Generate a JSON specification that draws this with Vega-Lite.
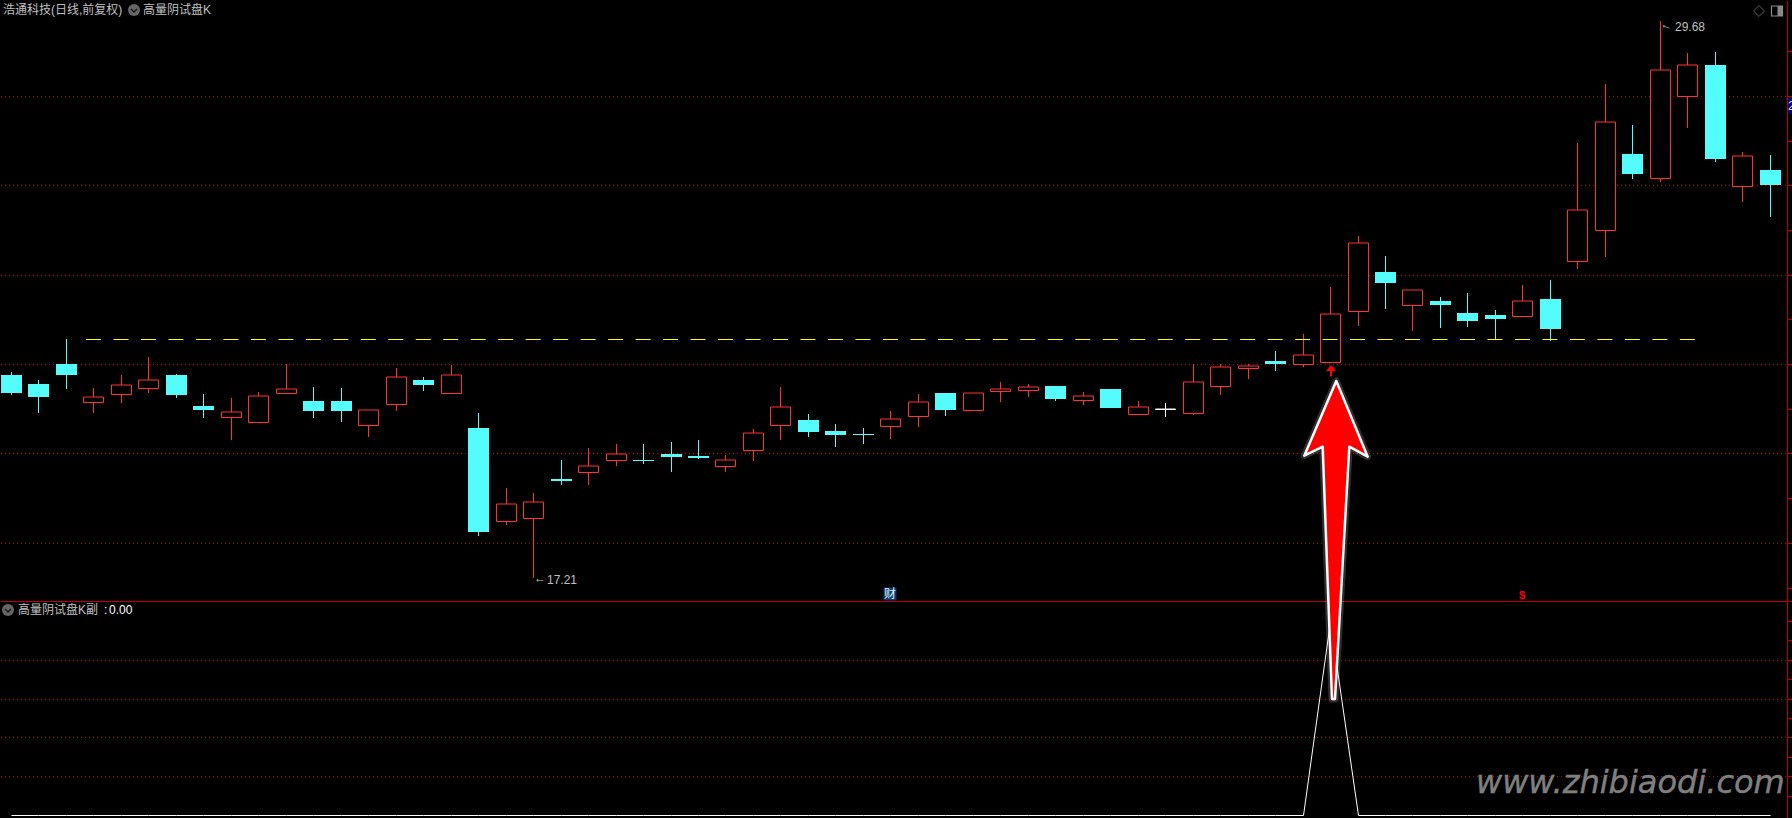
{
"$schema":"https://vega.github.io/schema/vega-lite/v6.json",
"width":1792,"height":818,"padding":0,"autosize":{"type":"fit","contains":"padding"},
"background":"#000000",
"view":{"stroke":null,"fill":"#000000"},
"config":{"text":{"font":"Liberation Sans, Noto Sans CJK SC","fontSize":12}},
"datasets":{
"candles":[
{"i":0,"o":21.765,"h":21.832,"l":21.318,"c":21.362,"d":"down","v":0},
{"i":1,"o":21.564,"h":21.653,"l":20.915,"c":21.273,"d":"down","v":0},
{"i":2,"o":22.011,"h":22.570,"l":21.452,"c":21.765,"d":"down","v":0},
{"i":3,"o":21.161,"h":21.474,"l":20.915,"c":21.273,"d":"up","v":0},
{"i":4,"o":21.340,"h":21.765,"l":21.139,"c":21.541,"d":"up","v":0},
{"i":5,"o":21.474,"h":22.168,"l":21.362,"c":21.653,"d":"up","v":0},
{"i":6,"o":21.765,"h":21.787,"l":21.250,"c":21.318,"d":"down","v":0},
{"i":7,"o":21.072,"h":21.340,"l":20.803,"c":20.982,"d":"down","v":0},
{"i":8,"o":20.825,"h":21.250,"l":20.311,"c":20.937,"d":"up","v":0},
{"i":9,"o":20.714,"h":21.385,"l":20.714,"c":21.295,"d":"up","v":0},
{"i":10,"o":21.362,"h":22.011,"l":21.362,"c":21.452,"d":"up","v":0},
{"i":11,"o":21.183,"h":21.497,"l":20.803,"c":20.960,"d":"down","v":0},
{"i":12,"o":21.183,"h":21.474,"l":20.714,"c":20.960,"d":"down","v":0},
{"i":13,"o":20.647,"h":20.982,"l":20.378,"c":20.982,"d":"up","v":0},
{"i":14,"o":21.116,"h":21.922,"l":20.960,"c":21.720,"d":"up","v":0},
{"i":15,"o":21.653,"h":21.720,"l":21.407,"c":21.541,"d":"down","v":0},
{"i":16,"o":21.362,"h":21.989,"l":21.362,"c":21.765,"d":"up","v":0},
{"i":17,"o":20.579,"h":20.915,"l":18.163,"c":18.253,"d":"down","v":0},
{"i":18,"o":18.499,"h":19.237,"l":18.409,"c":18.879,"d":"up","v":0},
{"i":19,"o":18.566,"h":19.125,"l":17.21,"c":18.924,"d":"up","v":0},
{"i":20,"o":19.438,"h":19.864,"l":19.304,"c":19.394,"d":"down","v":0},
{"i":21,"o":19.595,"h":20.132,"l":19.304,"c":19.729,"d":"up","v":0},
{"i":22,"o":19.864,"h":20.221,"l":19.729,"c":19.998,"d":"up","v":0},
{"i":23,"o":19.864,"h":20.221,"l":19.774,"c":19.841,"d":"down","v":0},
{"i":24,"o":19.998,"h":20.266,"l":19.595,"c":19.931,"d":"down","v":0},
{"i":25,"o":19.953,"h":20.311,"l":19.886,"c":19.908,"d":"down","v":0},
{"i":26,"o":19.729,"h":19.975,"l":19.595,"c":19.864,"d":"up","v":0},
{"i":27,"o":20.087,"h":20.557,"l":19.841,"c":20.468,"d":"up","v":0},
{"i":28,"o":20.647,"h":21.497,"l":20.311,"c":21.049,"d":"up","v":0},
{"i":29,"o":20.758,"h":20.893,"l":20.378,"c":20.490,"d":"down","v":0},
{"i":30,"o":20.512,"h":20.669,"l":20.154,"c":20.423,"d":"down","v":0},
{"i":31,"o":20.445,"h":20.580,"l":20.221,"c":20.423,"d":"down","v":0},
{"i":32,"o":20.624,"h":20.960,"l":20.333,"c":20.781,"d":"up","v":0},
{"i":33,"o":20.848,"h":21.340,"l":20.602,"c":21.161,"d":"up","v":0},
{"i":34,"o":21.362,"h":21.362,"l":20.848,"c":20.982,"d":"down","v":0},
{"i":35,"o":20.982,"h":21.362,"l":20.982,"c":21.362,"d":"up","v":0},
{"i":36,"o":21.407,"h":21.609,"l":21.161,"c":21.452,"d":"up","v":0},
{"i":37,"o":21.430,"h":21.564,"l":21.273,"c":21.497,"d":"up","v":0},
{"i":38,"o":21.519,"h":21.519,"l":21.183,"c":21.228,"d":"down","v":0},
{"i":39,"o":21.206,"h":21.385,"l":21.094,"c":21.295,"d":"up","v":0},
{"i":40,"o":21.452,"h":21.452,"l":21.027,"c":21.027,"d":"down","v":0},
{"i":41,"o":20.893,"h":21.183,"l":20.893,"c":21.049,"d":"up","v":0},
{"i":42,"o":21.005,"h":21.139,"l":20.825,"c":21.005,"d":"flat","v":0},
{"i":43,"o":20.915,"h":22.011,"l":20.870,"c":21.609,"d":"up","v":0},
{"i":44,"o":21.519,"h":22.011,"l":21.318,"c":21.944,"d":"up","v":0},
{"i":45,"o":21.922,"h":22.011,"l":21.676,"c":21.966,"d":"up","v":0},
{"i":46,"o":22.078,"h":22.302,"l":21.855,"c":22.011,"d":"down","v":0},
{"i":47,"o":22.011,"h":22.682,"l":21.944,"c":22.212,"d":"up","v":0},
{"i":48,"o":22.056,"h":23.734,"l":22.056,"c":23.130,"d":"up","v":1},
{"i":49,"o":23.197,"h":24.875,"l":22.861,"c":24.718,"d":"up","v":0},
{"i":50,"o":24.069,"h":24.427,"l":23.242,"c":23.823,"d":"down","v":0},
{"i":51,"o":23.331,"h":23.667,"l":22.749,"c":23.667,"d":"up","v":0},
{"i":52,"o":23.421,"h":23.510,"l":22.817,"c":23.331,"d":"down","v":0},
{"i":53,"o":23.152,"h":23.600,"l":22.839,"c":22.973,"d":"down","v":0},
{"i":54,"o":23.107,"h":23.219,"l":22.570,"c":23.018,"d":"down","v":0},
{"i":55,"o":23.085,"h":23.778,"l":23.085,"c":23.421,"d":"up","v":0},
{"i":56,"o":23.465,"h":23.890,"l":22.526,"c":22.794,"d":"down","v":0},
{"i":57,"o":24.315,"h":26.955,"l":24.136,"c":25.456,"d":"up","v":0},
{"i":58,"o":25.009,"h":28.275,"l":24.405,"c":27.425,"d":"up","v":0},
{"i":59,"o":26.709,"h":27.358,"l":26.150,"c":26.262,"d":"down","v":0},
{"i":60,"o":26.172,"h":29.68,"l":26.083,"c":28.588,"d":"up","v":0},
{"i":61,"o":28.007,"h":28.969,"l":27.291,"c":28.700,"d":"up","v":0},
{"i":62,"o":28.700,"h":28.991,"l":26.530,"c":26.597,"d":"down","v":0},
{"i":63,"o":25.993,"h":26.754,"l":25.635,"c":26.664,"d":"up","v":0},
{"i":64,"o":26.351,"h":26.687,"l":25.300,"c":26.016,"d":"down","v":0}
]},
"encoding":{"x":{"field":"i","type":"quantitative","axis":null,"scale":{"domain":[-0.3639,64.8472],"range":[0,1792],"round":true,"nice":false,"zero":false,"padding":0}}},
"layer":[
{
"encoding":{"y":{"field":"p","type":"quantitative","axis":null,"scale":{"domain":[11.8195,30.1274],"range":[818,0],"round":true,"nice":false,"zero":false}}},
"layer":[
{"data":{"values":[{"i":-0.3639,"e":64.63,"p":28},{"i":-0.3639,"e":64.63,"p":26},{"i":-0.3639,"e":64.63,"p":24},{"i":-0.3639,"e":64.63,"p":22},{"i":-0.3639,"e":64.63,"p":20},{"i":-0.3639,"e":64.63,"p":18}]},
 "mark":{"type":"rule","stroke":"#c00000","strokeWidth":1,"strokeDash":[1,3],"yOffset":0.5},
 "encoding":{"x2":{"field":"e"}}},
{"data":{"values":[{"i":-0.3639,"e":64.8472,"p":16.7}]},
 "mark":{"type":"rule","stroke":"#c00000","strokeWidth":1,"yOffset":0.5},
 "encoding":{"x2":{"field":"e"}}},
{"data":{"values":[{"i":64.63,"p":30.1274,"q":11.8195}]},
 "mark":{"type":"rule","stroke":"#c00000","strokeWidth":1,"xOffset":0.5},
 "encoding":{"y2":{"field":"q"}}},
{"data":{"values":[{"i":64.63,"e":64.81,"p":29},{"i":64.63,"e":64.81,"p":28},{"i":64.63,"e":64.81,"p":27},{"i":64.63,"e":64.81,"p":26},{"i":64.63,"e":64.81,"p":25},{"i":64.63,"e":64.81,"p":24},{"i":64.63,"e":64.81,"p":23},{"i":64.63,"e":64.81,"p":22},{"i":64.63,"e":64.81,"p":21},{"i":64.63,"e":64.81,"p":20},{"i":64.63,"e":64.81,"p":19},{"i":64.63,"e":64.81,"p":18},{"i":64.63,"e":64.81,"p":17}]},
 "mark":{"type":"rule","stroke":"#c00000","strokeWidth":1,"yOffset":0.5},
 "encoding":{"x2":{"field":"e"}}},
{"data":{"name":"candles"},
 "mark":{"type":"rule","strokeWidth":1,"xOffset":0.5},
 "encoding":{"y":{"field":"h","type":"quantitative"},"y2":{"field":"l"},
  "stroke":{"field":"d","type":"nominal","legend":null,"scale":{"domain":["up","down","flat"],"range":["#ff3232","#54fcfc","#ffffff"]}}}},
{"data":{"name":"candles"},"transform":[{"filter":"datum.d==='down'"}],
 "mark":{"type":"bar","orient":"vertical","size":21,"xOffset":0.5,"fill":"#54fcfc"},
 "encoding":{"y":{"field":"o","type":"quantitative"},"y2":{"field":"c"}}},
{"data":{"name":"candles"},"transform":[{"filter":"datum.d!=='down'"}],
 "mark":{"type":"bar","orient":"vertical","size":20,"xOffset":0.5,"yOffset":0.5,"fill":"#000000","strokeWidth":1},
 "encoding":{"y":{"field":"o","type":"quantitative"},"y2":{"field":"c"},
  "stroke":{"field":"d","type":"nominal","legend":null,"scale":{"domain":["up","down","flat"],"range":["#ff3232","#54fcfc","#ffffff"]}}}},
{"data":{"values":[{"i":2.729,"p":22.5625},{"i":61.32,"p":22.5625}]},
 "mark":{"type":"line","stroke":"#ffff00","strokeWidth":1,"strokeDash":[15,12.48],"yOffset":0.5},"encoding":{}},
{"data":{"values":[{"i":64.66,"e":64.8472,"p":27.956,"q":27.598}]},
 "mark":{"type":"rect","fill":"#000080"},"encoding":{"x2":{"field":"e"},"y2":{"field":"q"}}},
{"data":{"values":[{"i":64.67,"p":27.777,"t":"2"}]},
 "mark":{"type":"text","align":"left","baseline":"middle","fill":"#d8d8ff"},"encoding":{"text":{"field":"t"}}},
{"data":{"values":[{"i":-0.291,"p":29.926,"t":"浩通科技(日线,前复权)"},{"i":4.803,"p":29.926,"t":"高量阴试盘K"},{"i":0.255,"p":16.497,"t":"高量阴试盘K副"},{"i":60.553,"p":29.552,"t":"29.68"},{"i":19.505,"p":17.175,"t":"17.21"},{"i":19.032,"p":17.203,"t":"←"}]},
 "mark":{"type":"text","align":"left","baseline":"middle","fill":"#c0c0c0"},"encoding":{"text":{"field":"t"}}},
{"data":{"values":[{"i":60.044,"p":29.624,"t":"←"}]},
 "mark":{"type":"text","align":"left","baseline":"middle","fill":"#c0c0c0","angle":20},"encoding":{"text":{"field":"t"}}},
{"data":{"values":[{"i":3.384,"p":16.497,"t":":"},{"i":3.566,"p":16.497,"t":"0.00"}]},
 "mark":{"type":"text","align":"left","baseline":"middle","fill":"#ffffff"},"encoding":{"text":{"field":"t"}}},
{"data":{"values":[{"i":4.476,"p":29.926},{"i":-0.109,"p":16.497}]},
 "mark":{"type":"point","shape":"circle","filled":true,"size":144,"fill":"#666666","opacity":1,"stroke":null},"encoding":{}},
{"data":{"values":[{"i":4.476,"p":29.926},{"i":-0.109,"p":16.497}]},
 "mark":{"type":"point","shape":"M-3,-1L0,2L3,-1","size":4,"filled":false,"fill":null,"stroke":"#1a1a1a","strokeWidth":1.5,"opacity":1},"encoding":{}},
{"data":{"values":[{"i":32.0,"p":16.866}]},
 "mark":{"type":"point","shape":"square","filled":true,"size":169,"fill":"#0b3a70","opacity":1,"stroke":null},"encoding":{}},
{"data":{"values":[{"i":32.0,"p":16.866,"t":"财"}]},
 "mark":{"type":"text","align":"center","baseline":"middle","fill":"#e8f0ff"},"encoding":{"text":{"field":"t"}}},
{"data":{"values":[{"i":55,"p":16.82,"t":"$"}]},
 "mark":{"type":"text","align":"center","baseline":"middle","fill":"#ff0000","fontSize":11,"fontWeight":"bold"},"encoding":{"text":{"field":"t"}}},
{"data":{"values":[{"i":63.61,"p":29.91}]},
 "mark":{"type":"point","shape":"diamond","size":120,"filled":false,"fill":null,"stroke":"#5a5a5a","strokeWidth":1,"opacity":1},"encoding":{}},
{"data":{"values":[{"i":64.28,"p":29.91}]},
 "mark":{"type":"point","shape":"M-5.5,-5H5.5V5H-5.5Z","size":4,"filled":false,"fill":null,"stroke":"#8a8a8a","strokeWidth":1.2,"opacity":1},"encoding":{}},
{"data":{"values":[{"i":64.28,"p":29.91}]},
 "mark":{"type":"point","shape":"M0.5,-5H5.5V5H0.5Z","size":4,"filled":true,"fill":"#8a8a8a","stroke":null,"opacity":1},"encoding":{}}
]},
{
"data":{"name":"candles"},
"encoding":{"y":{"field":"v","type":"quantitative","axis":null,"scale":{"domain":[0,1],"range":[814,620.1],"round":true,"nice":false,"zero":false}}},
"layer":[
{"data":{"values":[{"i":-0.3639,"e":64.63,"v":0.8},{"i":-0.3639,"e":64.63,"v":0.6},{"i":-0.3639,"e":64.63,"v":0.4},{"i":-0.3639,"e":64.63,"v":0.2}]},
 "mark":{"type":"rule","stroke":"#c00000","strokeWidth":1,"strokeDash":[1,3],"yOffset":0.5},
 "encoding":{"x2":{"field":"e"}}},
{"data":{"values":[{"i":64.63,"e":64.81,"v":1},{"i":64.63,"e":64.81,"v":0.9},{"i":64.63,"e":64.81,"v":0.8},{"i":64.63,"e":64.81,"v":0.7},{"i":64.63,"e":64.81,"v":0.6},{"i":64.63,"e":64.81,"v":0.5},{"i":64.63,"e":64.81,"v":0.4},{"i":64.63,"e":64.81,"v":0.3},{"i":64.63,"e":64.81,"v":0.2},{"i":64.63,"e":64.81,"v":0.1}]},
 "mark":{"type":"rule","stroke":"#c00000","strokeWidth":1,"yOffset":0.5},
 "encoding":{"x2":{"field":"e"}}},
{"mark":{"type":"line","stroke":"#ffffff","strokeWidth":1,"xOffset":0.5,"yOffset":0.5},"encoding":{}}
]
},
{
"encoding":{"y":{"field":"p","type":"quantitative","axis":null,"scale":{"domain":[11.8195,30.1274],"range":[818,0],"round":true,"nice":false,"zero":false}}},
"layer":[
{"data":{"values":[{"i":48,"p":21.98}]},
 "mark":{"type":"point","shape":"M1,0L6,6H2V11.5H0V6H-4Z","size":4,"filled":true,"fill":"#ff0000","stroke":null,"opacity":1},"encoding":{}},
{"data":{"values":[{"i":48,"p":21.622}]},
 "mark":{"type":"point","shape":"M6.3,0L-25.7,74.7L-7.3,65.7L2,318L5,318L19.3,65.7L37.7,75.7Z","size":4,"filled":false,"fill":null,"stroke":"#ffffff","strokeWidth":7,"strokeJoin":"round","opacity":0.18},"encoding":{}},
{"data":{"values":[{"i":48,"p":21.622}]},
 "mark":{"type":"point","shape":"M6.3,0L-25.7,74.7L-7.3,65.7L2,318L5,318L19.3,65.7L37.7,75.7Z","size":4,"filled":true,"fill":"#ff0000","stroke":"#ffffff","strokeWidth":2.5,"strokeJoin":"round","opacity":1},"encoding":{}},
{"data":{"values":[{"i":53.3,"p":12.4,"t":"www.zhibiaodi.com"}]},
 "mark":{"type":"text","align":"left","baseline":"alphabetic","font":"DejaVu Sans","fontStyle":"oblique","fontSize":32,"fill":"#808080","stroke":"#808080","strokeWidth":0.4},"encoding":{"text":{"field":"t"}}}
]
}
],
"resolve":{"scale":{"y":"independent"}}
}
